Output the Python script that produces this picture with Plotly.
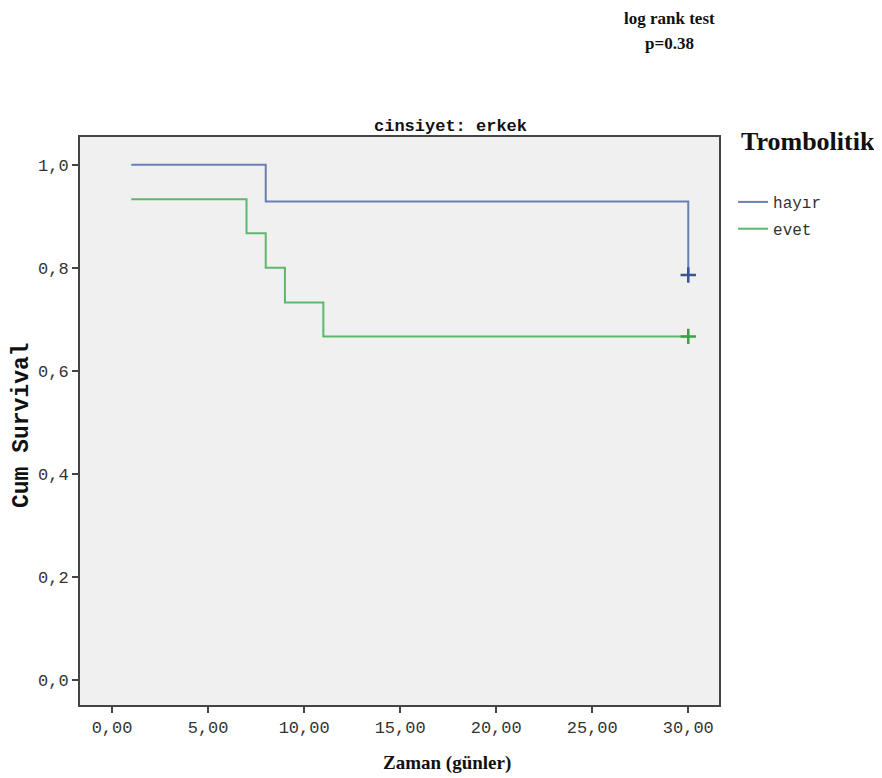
import plotly.graph_objects as go

# Kaplan-Meier step data
hayir_t = [1, 8, 8, 30, 30]
hayir_s = [1.0, 1.0, 0.929, 0.929, 0.786]
evet_t = [1, 7, 7, 8, 8, 9, 9, 11, 11, 30]
evet_s = [0.933, 0.933, 0.867, 0.867, 0.8, 0.8, 0.733, 0.733, 0.667, 0.667]
hayir_cens_t = [30]
hayir_cens_s = [0.786]
evet_cens_t = [30]
evet_cens_s = [0.667]

x_ticks = [0, 5, 10, 15, 20, 25, 30]
x_labels = ["0,00", "5,00", "10,00", "15,00", "20,00", "25,00", "30,00"]
y_ticks = [0, 0.2, 0.4, 0.6, 0.8, 1.0]
y_labels = ["0,0", "0,2", "0,4", "0,6", "0,8", "1,0"]

BLUE = "#6b7db5"
GREEN = "#5cb86a"
BLUE_D = "#3a5296"
GREEN_D = "#3aa04a"
MONO = "Liberation Mono, Courier New, monospace"
SERIF = "Liberation Serif, Times New Roman, serif"

fig = go.Figure()
fig.add_trace(go.Scatter(x=hayir_t, y=hayir_s, mode="lines", name="hayır", legendgroup="a",
                         line=dict(color=BLUE, width=2)))
fig.add_trace(go.Scatter(x=evet_t, y=evet_s, mode="lines", name="evet", legendgroup="b",
                         line=dict(color=GREEN, width=2)))
fig.add_trace(go.Scatter(x=hayir_cens_t, y=hayir_cens_s, mode="markers", showlegend=False,
                         marker=dict(symbol="cross-thin", size=11, line=dict(color=BLUE_D, width=2.5))))
fig.add_trace(go.Scatter(x=evet_cens_t, y=evet_cens_s, mode="markers", showlegend=False,
                         marker=dict(symbol="cross-thin", size=11, line=dict(color=GREEN_D, width=2.5))))

# page body adds an 8px offset; plot area target (screen px): x 80..719, y 137..705
fig.update_layout(
    width=874, height=770,
    margin=dict(l=72, r=163, t=129, b=73),
    paper_bgcolor="white", plot_bgcolor="#f0f0f0",
    showlegend=True,
    legend=dict(x=1.022, y=0.9155, xanchor="left", yanchor="top",
                font=dict(family=MONO, size=16, color="#333"),
                bgcolor="rgba(0,0,0,0)", traceorder="grouped", tracegroupgap=3, itemwidth=30),
    xaxis=dict(range=[-1.67, 31.6], tickvals=x_ticks, ticktext=x_labels,
               showgrid=False, zeroline=False, showline=True, linecolor="#444", linewidth=2,
               mirror=True, ticks="outside", ticklen=6, tickwidth=2, tickcolor="#444",
               tickfont=dict(family=MONO, size=17, color="#333")),
    yaxis=dict(range=[-0.0485, 1.054], tickvals=y_ticks, ticktext=y_labels,
               showgrid=False, zeroline=False, showline=True, linecolor="#444", linewidth=2,
               mirror=True, ticks="outside", ticklen=6, tickwidth=2, tickcolor="#444",
               tickfont=dict(family=MONO, size=17, color="#333")),
)

annotations = [
    dict(text="<b>cinsiyet: erkek</b>", x=450, y=126, showarrow=False,
         font=dict(family=MONO, size=17, color="#111")),
    dict(text="<b>Cum Survival</b>", x=22, y=425, showarrow=False,
         textangle=-90, font=dict(family=MONO, size=23, color="#111")),
    dict(text="<b>Zaman (günler)</b>", x=447, y=763, showarrow=False,
         font=dict(family=SERIF, size=19, color="#111")),
    dict(text="<b>log rank test</b>", x=669, y=19, showarrow=False,
         font=dict(family=SERIF, size=17, color="#111")),
    dict(text="<b>p=0.38</b>", x=669, y=44, showarrow=False,
         font=dict(family=SERIF, size=17, color="#111")),
    dict(text="<b>Trombolitik</b>", x=739, y=141, showarrow=False, xanchor="left",
         font=dict(family=SERIF, size=26, color="#111")),
]
# convert screen pixel positions to paper coords relative to the plot area
pl, pr, pt, pb = 80, 719, 137, 705
for a in annotations:
    px, py = a["x"], a["y"]
    a["x"] = (px - pl) / (pr - pl)
    a["y"] = (pb - py) / (pb - pt)
    a["xref"] = "paper"; a["yref"] = "paper"
    a.setdefault("xanchor", "center")
    a["yanchor"] = "middle"
fig.update_layout(annotations=annotations)

fig.write_html("out.html")
